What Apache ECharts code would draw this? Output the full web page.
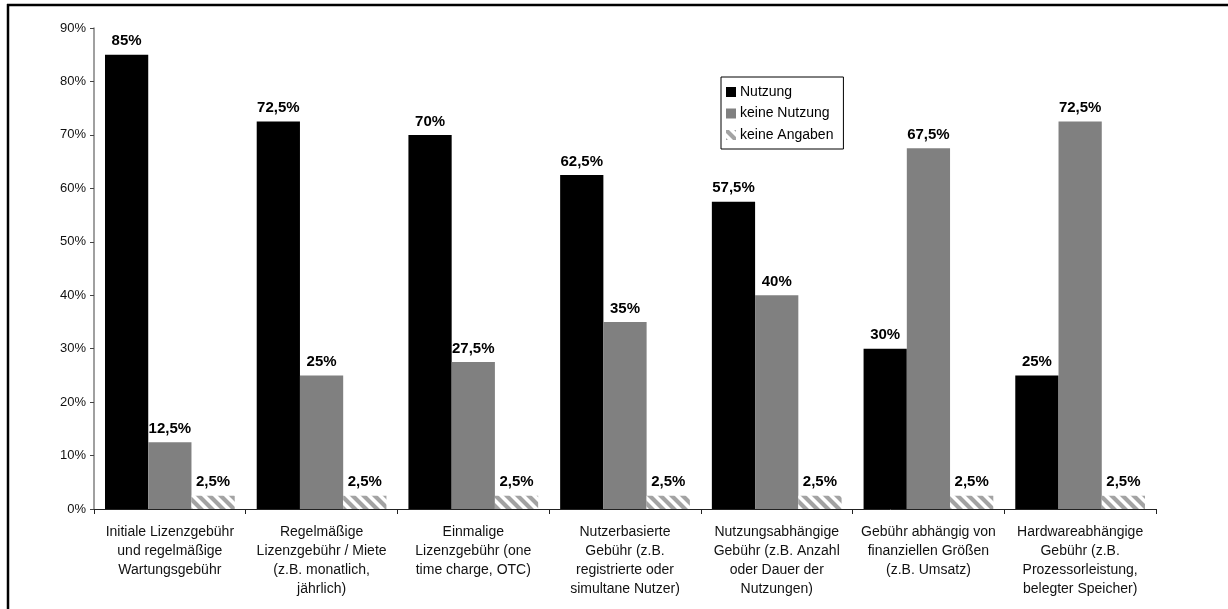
<!DOCTYPE html>
<html>
<head>
<meta charset="utf-8">
<script src="https://cdn.jsdelivr.net/npm/echarts@6/dist/echarts.min.js"></script>
<style>
  html, body { margin: 0; padding: 0; background: #fff; }
  #chart { width: 1228px; height: 609px; }
</style>
</head>
<body>
<div id="chart"></div>
<script>
const categories = [
  'Initiale Lizenzgebühr\nund regelmäßige\nWartungsgebühr',
  'Regelmäßige\nLizenzgebühr / Miete\n(z.B. monatlich,\njährlich)',
  'Einmalige\nLizenzgebühr (one\ntime charge, OTC)',
  'Nutzerbasierte\nGebühr (z.B.\nregistrierte oder\nsimultane Nutzer)',
  'Nutzungsabhängige\nGebühr (z.B. Anzahl\noder Dauer der\nNutzungen)',
  'Gebühr abhängig von\nfinanziellen Größen\n(z.B. Umsatz)',
  'Hardwareabhängige\nGebühr (z.B.\nProzessorleistung,\nbelegter Speicher)'
];
const seriesNames = ['Nutzung', 'keine Nutzung', 'keine Angaben'];
const nutzung = [85, 72.5, 70, 62.5, 57.5, 30, 25];
const keineNutzung = [12.5, 25, 27.5, 35, 40, 67.5, 72.5];
const keineAngaben = [2.5, 2.5, 2.5, 2.5, 2.5, 2.5, 2.5];
const yTicks = [0, 10, 20, 30, 40, 50, 60, 70, 80, 90];

// diagonal grey/white stripe tile for the "keine Angaben" bars
function stripeTile() {
  const s = 11;
  const c = document.createElement('canvas');
  c.width = s; c.height = s;
  const g = c.getContext('2d');
  g.fillStyle = '#ffffff';
  g.fillRect(0, 0, s, s);
  g.strokeStyle = '#a3a3a3';
  g.lineWidth = 4.2;
  g.beginPath();
  for (let k = -s; k <= 2 * s; k += s) {
    g.moveTo(k - 2, -2);
    g.lineTo(k + s + 2, s + 2);
  }
  g.stroke();
  return c;
}
const hatch = { image: stripeTile(), repeat: 'repeat' };

const fmt = v => String(v).replace('.', ',') + '%';

const labelStyle = {
  show: true,
  position: 'top',
  distance: 6,
  fontFamily: 'Liberation Sans, Arial, sans-serif',
  fontWeight: 'bold',
  fontSize: 15,
  color: '#000',
  formatter: p => fmt(p.value)
};

const chart = echarts.init(document.getElementById('chart'), null, { renderer: 'canvas' });
chart.setOption({
  animation: false,
  backgroundColor: '#fff',
  textStyle: { fontFamily: 'Liberation Sans, Arial, sans-serif' },
  grid: { left: 94, right: 72, top: 28, bottom: 100, containLabel: false },
  legend: {
    orient: 'vertical',
    left: 721,
    top: 77,
    padding: [8, 10, 7, 5],
    itemGap: 7.5,
    itemWidth: 10,
    itemHeight: 10,
    borderColor: '#000',
    borderWidth: 1,
    backgroundColor: '#fff',
    textStyle: { fontSize: 14, color: '#000', padding: [0, 0, 0, -1] },
    icon: 'rect',
    data: seriesNames
  },
  xAxis: {
    type: 'category',
    data: categories,
    axisLine: { lineStyle: { color: '#222', width: 1 } },
    axisTick: { show: true, length: 5, lineStyle: { color: '#222' } },
    axisLabel: {
      interval: 0,
      margin: 14,
      fontSize: 14,
      lineHeight: 19,
      color: '#111',
      align: 'center'
    }
  },
  yAxis: {
    type: 'value',
    min: yTicks[0],
    max: yTicks[yTicks.length - 1],
    interval: 10,
    axisLine: { show: true, lineStyle: { color: '#808080', width: 1.5 } },
    axisTick: { show: true, length: 4, lineStyle: { color: '#444' } },
    splitLine: { show: false },
    axisLabel: { fontSize: 13, color: '#111', margin: 8, formatter: v => v + '%' }
  },
  series: [
    {
      name: seriesNames[0], type: 'bar', data: nutzung,
      barGap: '0%', barCategoryGap: '14.5%',
      itemStyle: { color: '#000000' },
      label: labelStyle
    },
    {
      name: seriesNames[1], type: 'bar', data: keineNutzung,
      barGap: '0%', barCategoryGap: '14.5%',
      itemStyle: { color: '#808080' },
      label: labelStyle
    },
    {
      name: seriesNames[2], type: 'bar', data: keineAngaben,
      barGap: '0%', barCategoryGap: '14.5%',
      itemStyle: { color: hatch },
      label: labelStyle
    }
  ],
  graphic: [
    { type: 'line', shape: { x1: 7, y1: 5, x2: 1228, y2: 5 }, style: { stroke: '#000', lineWidth: 2.5 }, silent: true },
    { type: 'line', shape: { x1: 8, y1: 4, x2: 8, y2: 609 }, style: { stroke: '#000', lineWidth: 2.5 }, silent: true }
  ]
});
</script>
</body>
</html>
